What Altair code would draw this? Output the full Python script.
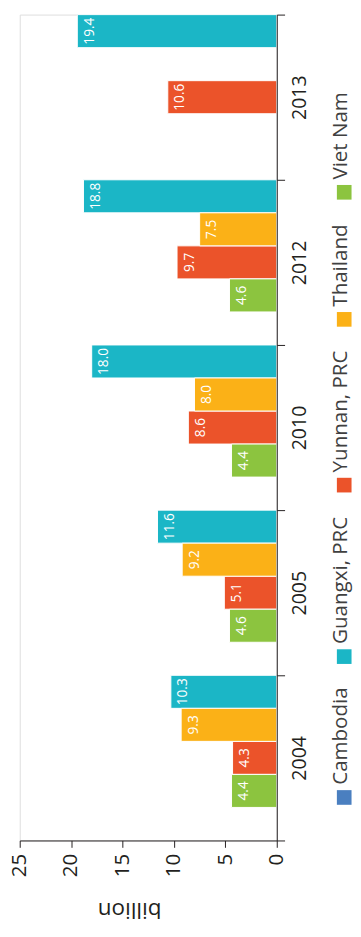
import altair as alt
import pandas as pd

# ---- data ----
years = ["2004", "2005", "2010", "2012", "2013"]
series = ["Cambodia", "Guangxi, PRC", "Yunnan, PRC", "Thailand", "Viet Nam"]  # legend order
colors = ["#4A7FC0", "#1BB6C6", "#EB532A", "#FBB117", "#8CC43F"]
cambodia = [None, None, None, None, None]
guangxi = [10.3, 11.6, 18.0, 18.8, 19.4]
yunnan = [4.3, 5.1, 8.6, 9.7, 10.6]
thailand = [9.3, 9.2, 8.0, 7.5, None]
vietnam = [4.4, 4.6, 4.4, 4.6, None]
value_ticks = [0, 5, 10, 15, 20, 25]
axis_title = "billion"

# slot order inside each year band (top -> bottom on screen)
slot_order = ["Guangxi, PRC", "Thailand", "Yunnan, PRC", "Viet Nam", "Cambodia"]

FONT = "Open Sans"
DARK = "#231F20"
W, H = 263, 845
LEG_FS = 21

rows = []
for name, vals in zip(series, [cambodia, guangxi, yunnan, thailand, vietnam]):
    for yr, v in zip(years, vals):
        if v is not None:
            rows.append({"year": yr, "series": name, "value": v})
df = pd.DataFrame(rows)

# approximate Open Sans advance widths (em) to lay the hand-built legend out
_adv = {"C": .633, "a": .556, "m": .862, "b": .613, "o": .601, "d": .613, "i": .253,
        "G": .725, "u": .613, "n": .614, "g": .537, "x": .523, ",": .244, " ": .26,
        "P": .603, "R": .618, "Y": .531, "T": .556, "h": .614, "l": .253, "V": .579,
        "e": .561, "t": .351, "N": .742}


def text_w(s):
    return sum(_adv.get(c, .58) for c in s) * LEG_FS


# legend positions (distance up from plot bottom)
leg_rows = []
p = 44.0
for name in series:
    leg_rows.append({"series": name, "sq": p, "tx": p + 13})
    p += 45.7 + text_w(name)
leg = pd.DataFrame(leg_rows)

color_scale = alt.Scale(domain=series, range=colors)

y_enc = alt.Y(
    "year:N",
    sort=years[::-1],
    scale=alt.Scale(domain=years[::-1], paddingInner=0, paddingOuter=0),
    axis=alt.Axis(
        orient="right", title=None, labelAngle=270, labelAlign="center",
        labelBaseline="top", labelPadding=5, labelFontSize=20, labelFont=FONT,
        labelColor=DARK, tickBand="extent", tickSize=8, tickColor=DARK,
        domainColor=DARK, grid=False, zindex=1,
    ),
)
yoff = alt.YOffset("series:N", scale=alt.Scale(domain=slot_order, paddingInner=0, paddingOuter=0))
x_enc = alt.X(
    "value:Q",
    scale=alt.Scale(domain=[0, 25], reverse=True, nice=False),
    axis=alt.Axis(
        orient="bottom", values=value_ticks, title=axis_title, grid=False,
        labelAngle=270, labelAlign="right", labelBaseline="middle",
        labelPadding=6, labelFontSize=21, labelFont=FONT, labelColor=DARK,
        tickSize=7, tickColor=DARK, domainColor=DARK, zindex=1,
        titleAngle=180, titleX=112, titleY=70, titleAlign="center",
        titleBaseline="middle", titleFontSize=23, titleFont=FONT,
        titleFontWeight="normal", titleColor=DARK,
    ),
)

bars = alt.Chart(df).mark_bar(stroke="white", strokeWidth=1).encode(
    x=x_enc,
    y=y_enc,
    yOffset=yoff,
    color=alt.Color("series:N", scale=color_scale, legend=None),
)

labels = alt.Chart(df).mark_text(
    angle=270, align="center", baseline="middle", dy=13,
    color="white", fontSize=14, font=FONT,
).encode(
    x=alt.X("value:Q"),
    y=alt.Y("year:N", sort=years[::-1]),
    yOffset=yoff,
    text=alt.Text("value:Q", format=".1f"),
)

main = alt.layer(bars, labels)

leg_y = alt.Scale(domain=[0, H], nice=False, zero=False)
leg_sq = alt.Chart(leg).mark_square(size=225, opacity=1).encode(
    x=alt.value(W + 69),
    y=alt.Y("sq:Q", scale=leg_y, axis=None),
    color=alt.Color("series:N", scale=color_scale, legend=None),
)
leg_tx = alt.Chart(leg).mark_text(
    angle=270, align="left", baseline="middle", fontSize=LEG_FS, font=FONT, color="#404040",
).encode(
    x=alt.value(W + 66),
    y=alt.Y("tx:Q", scale=leg_y, axis=None),
    text="series:N",
)
legend = alt.layer(leg_sq, leg_tx)

chart = alt.layer(main, legend).resolve_scale(y="independent").properties(
    width=W,
    height=H,
    autosize=alt.AutoSizeParams(type="none"),
    padding={"left": 12, "top": -4, "right": 78, "bottom": 88},
).configure_view(stroke=None).configure(font=FONT, background="white")

chart.save("out.html", embed_options={"renderer": "svg", "actions": False})
